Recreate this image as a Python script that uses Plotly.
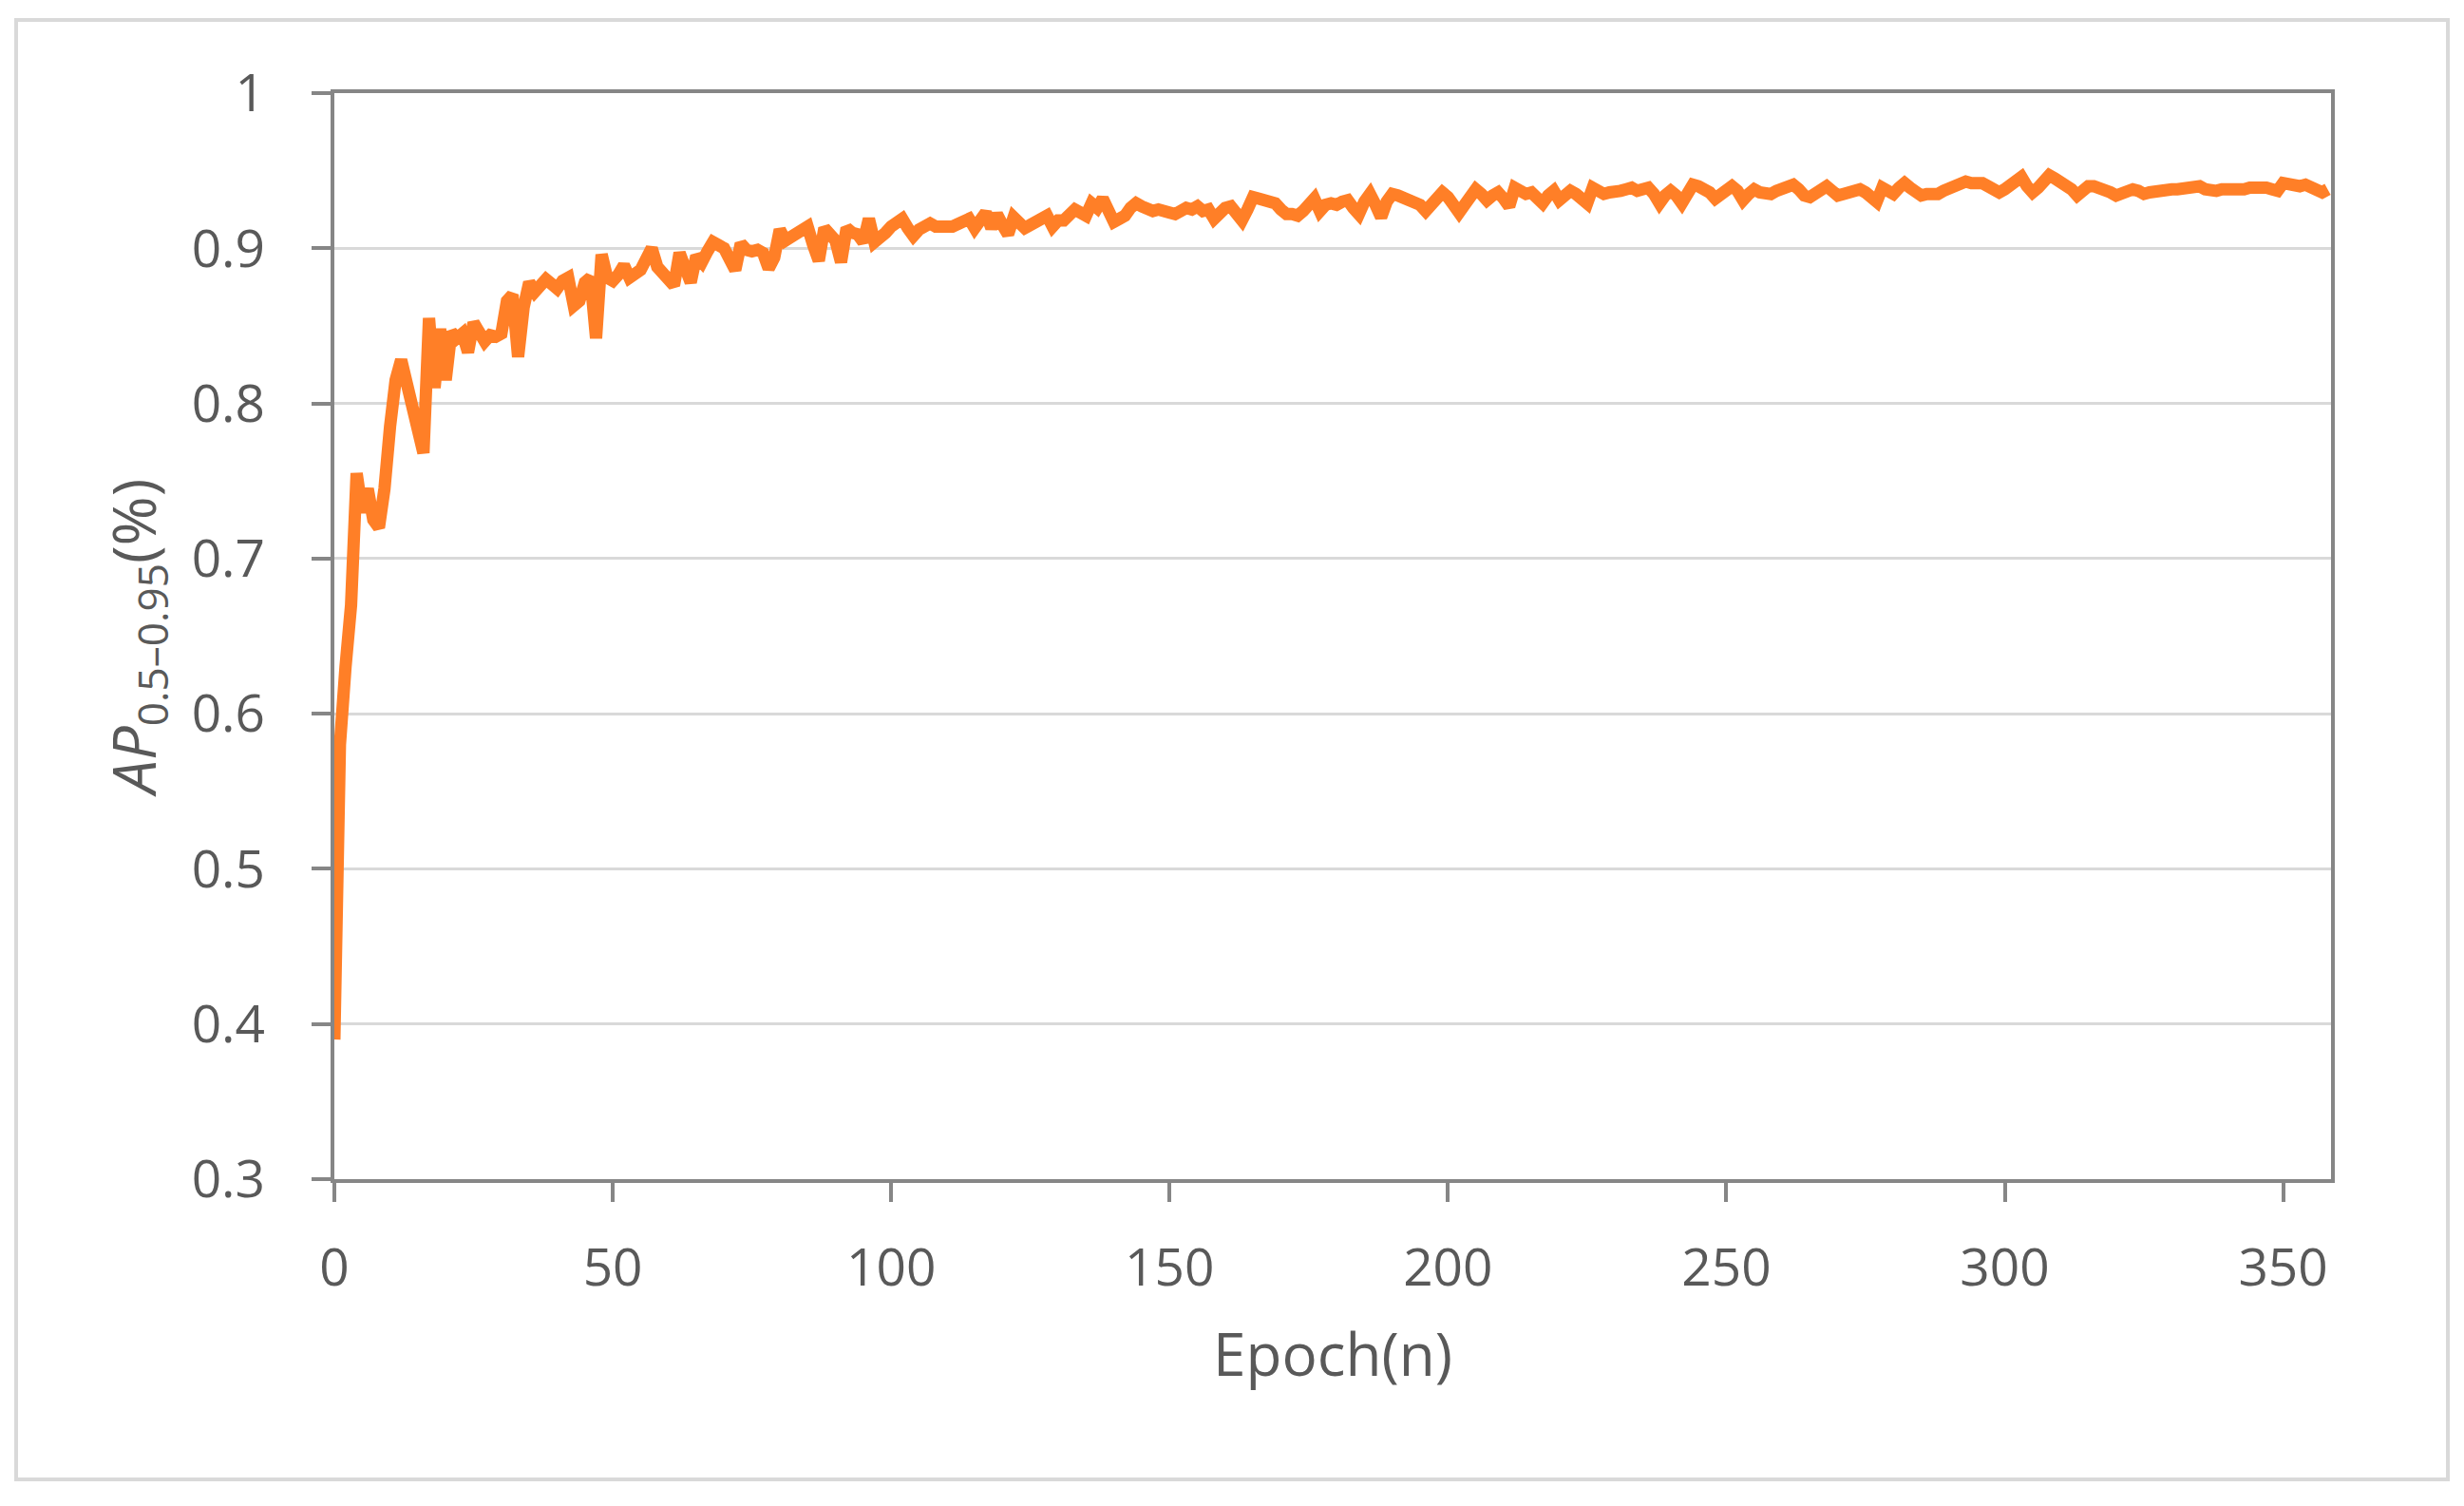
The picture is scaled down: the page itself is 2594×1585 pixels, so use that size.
import plotly.graph_objects as go

epochs = list(range(0, 359))
ap_values = [
    0.39, 0.58, 0.63, 0.67, 0.755, 0.73, 0.745, 0.725, 0.72, 0.745,
    0.785, 0.815, 0.828, 0.812, 0.80, 0.778, 0.768, 0.855, 0.81, 0.848,
    0.815, 0.846, 0.842, 0.845, 0.833, 0.852, 0.845, 0.84, 0.844, 0.843,
    0.845, 0.866, 0.87, 0.83, 0.862, 0.878, 0.872, 0.876, 0.88, 0.877,
    0.874, 0.879, 0.881, 0.863, 0.866, 0.878, 0.881, 0.842, 0.896, 0.881,
    0.879, 0.883, 0.889, 0.881, 0.884, 0.886, 0.893, 0.90, 0.888, 0.884,
    0.88, 0.876, 0.897, 0.885, 0.878, 0.895, 0.891, 0.898, 0.904, 0.902,
    0.90, 0.893, 0.886, 0.903, 0.899, 0.898, 0.899, 0.897, 0.887, 0.894,
    0.912, 0.905, 0.907, 0.909, 0.911, 0.914, 0.902, 0.892, 0.913, 0.909,
    0.905, 0.891, 0.913, 0.91, 0.909, 0.904, 0.919, 0.904, 0.906, 0.91,
    0.914, 0.917, 0.919, 0.913, 0.908, 0.912, 0.915, 0.916, 0.914, 0.913,
    0.914, 0.914, 0.916, 0.918, 0.919, 0.913, 0.917, 0.923, 0.913, 0.922,
    0.915, 0.909, 0.92, 0.916, 0.913, 0.915, 0.917, 0.919, 0.921, 0.914,
    0.918, 0.918, 0.922, 0.925, 0.923, 0.921, 0.929, 0.926, 0.932, 0.925,
    0.917, 0.919, 0.921, 0.926, 0.929, 0.927, 0.925, 0.924, 0.925, 0.923,
    0.923, 0.922, 0.925, 0.926, 0.925, 0.927, 0.924, 0.925, 0.919, 0.924,
    0.926, 0.927, 0.922, 0.918, 0.925, 0.933, 0.932, 0.931, 0.929, 0.929,
    0.925, 0.922, 0.922, 0.921, 0.924, 0.929, 0.932, 0.924, 0.928, 0.929,
    0.928, 0.93, 0.931, 0.926, 0.922, 0.93, 0.935, 0.928, 0.92, 0.93,
    0.935, 0.934, 0.933, 0.932, 0.931, 0.928, 0.924, 0.929, 0.934, 0.936,
    0.933, 0.927, 0.923, 0.928, 0.934, 0.938, 0.935, 0.931, 0.934, 0.936,
    0.932, 0.927, 0.939, 0.937, 0.935, 0.936, 0.933, 0.929, 0.934, 0.937,
    0.931, 0.935, 0.937, 0.935, 0.933, 0.929, 0.939, 0.937, 0.935, 0.936,
    0.936, 0.937, 0.938, 0.939, 0.937, 0.938, 0.939, 0.935, 0.929, 0.934,
    0.937, 0.934, 0.929, 0.935, 0.941, 0.94, 0.939, 0.936, 0.932, 0.935,
    0.938, 0.94, 0.937, 0.931, 0.935, 0.938, 0.936, 0.936, 0.935, 0.937,
    0.938, 0.94, 0.941, 0.938, 0.934, 0.933, 0.936, 0.938, 0.94, 0.937,
    0.934, 0.935, 0.936, 0.937, 0.938, 0.936, 0.933, 0.93, 0.939, 0.938,
    0.935, 0.939, 0.942, 0.939, 0.936, 0.934, 0.935, 0.935, 0.935, 0.937,
    0.939, 0.94, 0.942, 0.943, 0.942, 0.942, 0.942, 0.94, 0.938, 0.936,
    0.938, 0.941, 0.944, 0.946, 0.94, 0.936, 0.939, 0.943, 0.947, 0.945,
    0.943, 0.942, 0.938, 0.934, 0.937, 0.94, 0.94, 0.939, 0.939, 0.936,
    0.934, 0.936, 0.937, 0.938, 0.937, 0.935, 0.936, 0.937, 0.936, 0.937,
    0.938, 0.938, 0.939, 0.94, 0.941, 0.94, 0.938, 0.937, 0.937, 0.938,
    0.938, 0.937, 0.938, 0.938, 0.939, 0.939, 0.94, 0.939, 0.938, 0.937,
    0.942, 0.941, 0.94, 0.94, 0.941, 0.94, 0.939, 0.936, 0.938,
]

x_ticks = [0, 50, 100, 150, 200, 250, 300, 350]
y_ticks = [0.3, 0.4, 0.5, 0.6, 0.7, 0.8, 0.9, 1.0]
y_tick_labels = ["0.3", "0.4", "0.5", "0.6", "0.7", "0.8", "0.9", "1"]

W, H = 2594, 1585
OFF = 8  # page offset of the figure div
# target page coordinates of the plot area
PL, PR, PT, PB = 352, 2454, 98, 1241
ML = PL - OFF
MT = PT - OFF
MR = W - ML - (PR - PL)
MB = H - MT - (PB - PT)

FONT = "Open Sans"
TXT = "#595959"
AXC = "#868686"
GRID = "#D9D9D9"

fig = go.Figure()
fig.add_trace(go.Scatter(
    x=epochs, y=ap_values, mode="lines",
    line=dict(color="#FF7F27", width=13),
    showlegend=False, hoverinfo="x+y",
))

pw = PR - PL
ph = PB - PT
fx0 = (17 - PL) / pw
fx1 = (2577 - PL) / pw
fy0 = (PB - 1557) / ph
fy1 = (PB - 21) / ph
fig.add_shape(type="rect", xref="paper", yref="paper",
              x0=fx0, x1=fx1, y0=fy0, y1=fy1,
              line=dict(color="#D9D9D9", width=4), fillcolor="rgba(0,0,0,0)",
              layer="below")

fig.update_layout(
    width=W, height=H,
    margin=dict(l=ML, r=MR, t=MT, b=MB, autoexpand=False),
    paper_bgcolor="white", plot_bgcolor="white",
    font=dict(family=FONT, color=TXT, size=54),
    xaxis=dict(
        range=[0, 358.6], tickvals=x_ticks,
        ticks="outside", ticklen=20, tickwidth=4, tickcolor=AXC,
        showline=True, linecolor=AXC, linewidth=4, mirror=True,
        showgrid=False, zeroline=False,
        tickfont=dict(size=55, color=TXT, family=FONT),
        ticklabelstandoff=22,
        title=dict(text="Epoch(n)", font=dict(size=62, color=TXT, family=FONT), standoff=38),
    ),
    yaxis=dict(
        range=[0.3, 1.0], tickvals=y_ticks, ticktext=y_tick_labels,
        ticks="outside", ticklen=20, tickwidth=4, tickcolor=AXC,
        showline=True, linecolor=AXC, linewidth=4, mirror=True,
        showgrid=True, gridcolor=GRID, gridwidth=3, zeroline=False,
        tickfont=dict(size=55, color=TXT, family=FONT),
        ticklabelstandoff=38,
        title=dict(text="<i>AP</i><sub>0.5–0.95</sub>(%)", font=dict(size=63, color=TXT, family=FONT), standoff=18),
    ),
)

fig.write_html("out.html")
